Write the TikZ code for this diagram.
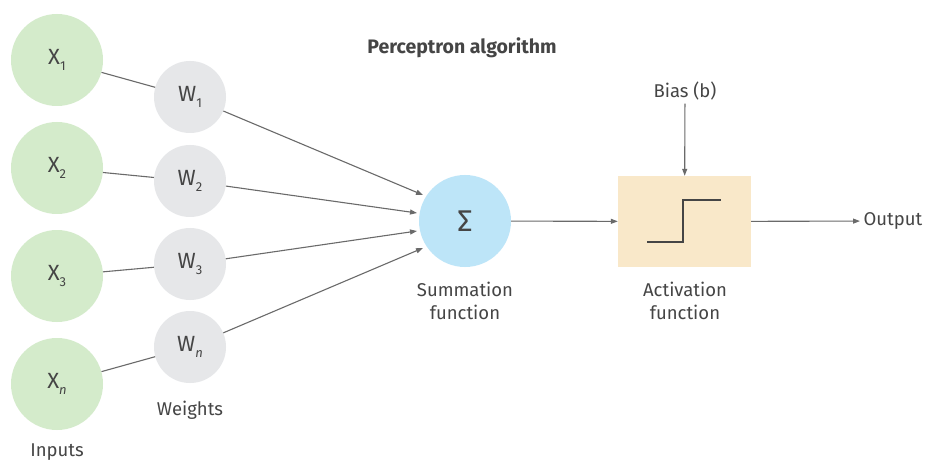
\documentclass[tikz,border=0pt]{standalone}
\usepackage{fontspec}
\setmainfont{Fira Sans}
\usetikzlibrary{arrows.meta}
\definecolor{inputgreen}{HTML}{D4EBCB}
\definecolor{weightgray}{HTML}{E6E7E9}
\definecolor{sumblue}{HTML}{BDE5F8}
\definecolor{actbox}{HTML}{F9E8C9}
\definecolor{ink}{HTML}{454545}
\definecolor{wire}{HTML}{6A6A6A}
\tikzset{
  inputnode/.style={circle, fill=inputgreen, minimum size=92pt, inner sep=0pt, text=ink, font=\fontsize{22}{24}\selectfont},
  weightnode/.style={circle, fill=weightgray, minimum size=72pt, inner sep=0pt, text=ink, font=\fontsize{22}{24}\selectfont},
  sumnode/.style={circle, fill=sumblue, minimum size=92pt, inner sep=0pt, text=ink, font=\fontsize{30}{32}\selectfont},
  actnode/.style={rectangle, fill=actbox, minimum width=133pt, minimum height=91pt, inner sep=0pt},
  label/.style={text=ink, font=\fontsize{18.5}{23}\selectfont, align=center},
  wireline/.style={draw=wire, line width=1.1pt},
  wirearrow/.style={wireline, -{Triangle[length=7pt,width=5pt]}},
}
\newcommand{\sub}[1]{\raisebox{-0.5ex}{\fontsize{13}{14}\selectfont #1}}
\begin{document}
\begin{tikzpicture}[x=1pt,y=-1pt]
  \useasboundingbox[fill=white] (0,0) rectangle (925,462);

  % inputs
  \node[inputnode] (x1) at (57,60)  {X\sub{1}};
  \node[inputnode] (x2) at (57,168) {X\sub{2}};
  \node[inputnode] (x3) at (57,276) {X\sub{3}};
  \node[inputnode] (xn) at (57,384) {X\sub{\textit{n}}};

  % weights
  \node[weightnode] (w1) at (190,97)  {W\sub{1}};
  \node[weightnode] (w2) at (190,181) {W\sub{2}};
  \node[weightnode] (w3) at (190,264) {W\sub{3}};
  \node[weightnode] (wn) at (190,347) {W\sub{\textit{n}}};

  % summation and activation
  \node[sumnode] (sum) at (465,221) {Σ};
  \node[actnode] (act) at (684.5,221.5) {};
  \draw[ink, line width=1.6pt] (647,242) -- (683,242) -- (683,200) -- (721,200);

  % texts
  \node[label, font=\fontsize{19.5}{22}\selectfont\bfseries] (title) at (462,48) {Perceptron algorithm};
  \node[label] (bias) at (685,91) {Bias (b)};
  \node[label, anchor=west] (out) at (860,221) {Output};
  \node[label] (sumlbl) at (465,301) {Summation\\function};
  \node[label] (actlbl) at (685,301) {Activation\\function};
  \node[label] (wlbl) at (190,410) {Weights};
  \node[label] (ilbl) at (57,452) {Inputs};

  % inputs to weights
  \draw[wireline] (x1) -- (w1);
  \draw[wireline] (x2) -- (w2);
  \draw[wireline] (x3) -- (w3);
  \draw[wireline] (xn) -- (wn);

  % weights to summation
  \coordinate (s1) at (423,195);
  \coordinate (s2) at (417,213);
  \coordinate (s3) at (417,231);
  \coordinate (s4) at (423,248);
  \draw[wirearrow] (w1) -- (s1);
  \draw[wirearrow] (w2) -- (s2);
  \draw[wirearrow] (w3) -- (s3);
  \draw[wirearrow] (wn) -- (s4);

  % summation to activation to output
  \draw[wirearrow] (sum) -- (act);
  \draw[wirearrow] (bias) -- (act);
  \draw[wirearrow] (act) -- (out);
\end{tikzpicture}
\end{document}
